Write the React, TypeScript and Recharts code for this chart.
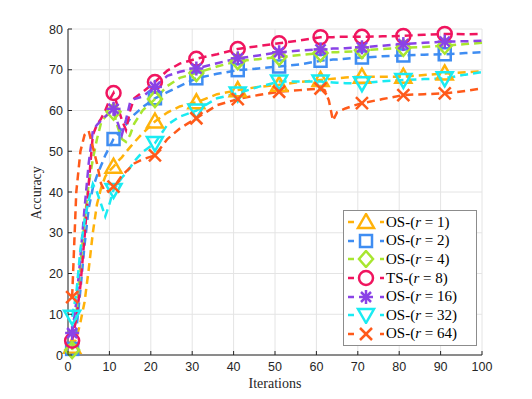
import React from 'react'
import { LineChart, Line, XAxis, YAxis, CartesianGrid } from 'recharts'

const ITERS = [1, 2, 3, 4, 5, 6, 7, 8, 9, 10, 11, 12, 13, 14, 15, 16, 18, 21, 24, 27, 31, 36, 41, 46, 51, 56, 61, 62, 63, 64, 65, 67, 69, 71, 76, 81, 86, 91, 96, 100]

const ACC_R1 = [2, 4, 8, 13, 21, 30, 37, 41, 43.8, 45.2, 46.2, 47.5, 48.5, 49.8, 51, 52.2, 54.4, 57.3, 59.5, 61, 62, 64, 65, 65.8, 66.3, 67, 67.5, 67.6, 67.7, 67.8, 67.9, 68.1, 68.2, 68.3, 68.3, 68.3, 68.7, 69.1, 69.4, 69.6]
const ACC_R2 = [1.5, 6, 16, 27, 36, 41, 44, 46.5, 49, 51, 53, 54, 55.5, 56.5, 58, 59, 60.8, 63, 64.5, 66, 67.9, 69, 69.9, 70.3, 70.8, 71.3, 72.2, 72.3, 72.4, 72.5, 72.5, 72.7, 72.9, 73, 73.3, 73.5, 73.7, 73.8, 74.1, 74.3]
const ACC_R4 = [1.2, 10, 22, 33, 42, 48, 53, 57, 58.5, 59.3, 59.7, 56, 53, 52.3, 54, 56.8, 60, 62.8, 66, 68, 69.2, 70.8, 72.1, 72.6, 73.1, 73.6, 74.1, 74.2, 74.2, 74.3, 74.3, 74.4, 74.5, 74.8, 75.1, 75.4, 75.6, 75.9, 76.3, 76.6]
const ACC_TS8 = [3.5, 9, 17, 29, 42, 54, 56.5, 58, 60, 62.5, 64.3, 61, 57.7, 55.2, 60, 63, 64.5, 67, 69.8, 71.5, 72.7, 73.8, 75.1, 75.8, 76.5, 77.2, 78, 78, 78, 78, 78.1, 78.1, 78.1, 78.1, 78.2, 78.3, 78.6, 78.8, 78.7, 78.8]
const ACC_R16 = [5.4, 13, 24, 36, 47, 55, 56.5, 57.5, 58.5, 59.5, 60.4, 57, 54, 57.7, 62, 62.8, 63.4, 65.8, 68.5, 69.5, 70.3, 71.6, 72.8, 73.5, 74.3, 74.7, 75, 75.1, 75.1, 75.2, 75.2, 75.3, 75.4, 75.5, 75.9, 76.3, 76.6, 76.9, 77, 77.1]
const ACC_R32 = [9.4, 15, 26, 33, 38, 42, 40, 37, 34, 37, 40.5, 42, 43.5, 44.6, 46, 47.5, 49.8, 52, 56.5, 58.5, 60, 63, 64.2, 65.8, 67.1, 67.1, 67.1, 67, 67, 66.9, 66.8, 66.7, 66.7, 66.7, 67.2, 67.5, 67.7, 67.9, 68.8, 69.4]
const ACC_R64 = [14.2, 40, 50, 54, 55, 51, 47, 42, 40, 40.5, 41.3, 42.5, 44, 45, 46, 47, 48, 49, 53, 55.6, 58.1, 61.3, 62.8, 63.8, 64.6, 65, 65.4, 65, 62.5, 57.5, 59.6, 60.5, 61.2, 61.8, 62.8, 63.8, 64, 64.2, 64.8, 65.4]

const SERIES = [
  { key: 'r1', name: 'OS-(', r: '1', vals: ACC_R1, color: '#FFB20A', marker: 'tri' },
  { key: 'r2', name: 'OS-(', r: '2', vals: ACC_R2, color: '#3F8DF2', marker: 'sq' },
  { key: 'r4', name: 'OS-(', r: '4', vals: ACC_R4, color: '#A8E630', marker: 'dia' },
  { key: 'r8', name: 'TS-(', r: '8', vals: ACC_TS8, color: '#F0155F', marker: 'circ' },
  { key: 'r16', name: 'OS-(', r: '16', vals: ACC_R16, color: '#8A43E6', marker: 'star' },
  { key: 'r32', name: 'OS-(', r: '32', vals: ACC_R32, color: '#1AEBF2', marker: 'vtri' },
  { key: 'r64', name: 'OS-(', r: '64', vals: ACC_R64, color: '#FF5A1A', marker: 'x' },
]

const X_TICKS = [0, 10, 20, 30, 40, 50, 60, 70, 80, 90, 100]
const Y_TICKS = [0, 10, 20, 30, 40, 50, 60, 70, 80]

const data = ITERS.map((it, i) => {
  const row: Record<string, number> = { iter: it }
  SERIES.forEach(s => { row[s.key] = s.vals[i] })
  return row
})

const AXIS = '#262626'
const SERIF = 'Liberation Serif, Times New Roman, serif'

function Marker({ kind, cx, cy, color }: { kind: string; cx: number; cy: number; color: string }) {
  const p = { fill: 'none', stroke: color, strokeWidth: 2.5 }
  switch (kind) {
    case 'tri':
      return <polygon {...p} points={`${cx},${cy - 8} ${cx - 8},${cy + 6} ${cx + 8},${cy + 6}`} />
    case 'vtri':
      return <polygon {...p} points={`${cx},${cy + 8} ${cx - 8},${cy - 6} ${cx + 8},${cy - 6}`} />
    case 'sq':
      return <rect {...p} x={cx - 6} y={cy - 6} width={12} height={12} />
    case 'dia':
      return <polygon {...p} points={`${cx},${cy - 8} ${cx + 7},${cy} ${cx},${cy + 8} ${cx - 7},${cy}`} />
    case 'circ':
      return <circle {...p} cx={cx} cy={cy} r={7} />
    case 'star':
      return (
        <g {...p}>
          <line x1={cx - 7} y1={cy} x2={cx + 7} y2={cy} />
          <line x1={cx} y1={cy - 7} x2={cx} y2={cy + 7} />
          <line x1={cx - 5} y1={cy - 5} x2={cx + 5} y2={cy + 5} />
          <line x1={cx - 5} y1={cy + 5} x2={cx + 5} y2={cy - 5} />
        </g>
      )
    default:
      return (
        <g {...p}>
          <line x1={cx - 6} y1={cy - 6} x2={cx + 6} y2={cy + 6} />
          <line x1={cx - 6} y1={cy + 6} x2={cx + 6} y2={cy - 6} />
        </g>
      )
  }
}

const XTick = (props: any) => {
  const { x, y, payload } = props
  return (
    <g>
      <line x1={x} y1={y} x2={x} y2={y - 4} stroke={AXIS} />
      <text x={x} y={y + 16} textAnchor="middle" fontSize={12.5} fill={AXIS} fontFamily="Liberation Sans, Arial, sans-serif">
        {payload.value}
      </text>
    </g>
  )
}

const YTick = (props: any) => {
  const { x, y, payload } = props
  return (
    <g>
      <line x1={x} y1={y} x2={x + 4} y2={y} stroke={AXIS} />
      <text x={x - 5} y={y + 4.5} textAnchor="end" fontSize={12.5} fill={AXIS} fontFamily="Liberation Sans, Arial, sans-serif">
        {payload.value}
      </text>
    </g>
  )
}

const LegendBox = () => (
  <div style={{
    position: 'absolute', left: 343, top: 210, width: 132, padding: '2px 0',
    background: '#fff', border: '1px solid #8c8c8c',
    fontFamily: SERIF, fontSize: 15, color: '#000',
  }}>
    {SERIES.map(s => (
      <div key={s.key} style={{ display: 'flex', alignItems: 'center', height: 18.6 }}>
        <svg width={42} height={18} style={{ flex: 'none' }}>
          <line x1={4} y1={9} x2={40} y2={9} stroke={s.color} strokeWidth={2.5} strokeDasharray="6 26 6" />
          <Marker kind={s.marker} cx={22} cy={9} color={s.color} />
        </svg>
        <span style={{ whiteSpace: 'nowrap' }}>
          {s.name}<i>r</i> = {s.r})
        </span>
      </div>
    ))}
  </div>
)

export default function App() {
  return (
    <div style={{ position: 'absolute', left: 0, top: 0, width: 532, height: 399, background: '#fff' }}>
      <LineChart width={532} height={399} data={data} margin={{ top: 29, right: 50, bottom: 14, left: 28 }}>
        <CartesianGrid stroke="#e4e4e4" strokeWidth={1} />
        <XAxis
          dataKey="iter" type="number" domain={[0, 100]} ticks={X_TICKS}
          stroke={AXIS} tickLine={false} tickSize={0} tickMargin={0} height={30} tick={XTick}
        />
        <YAxis
          type="number" domain={[0, 80]} ticks={Y_TICKS}
          stroke={AXIS} tickLine={false} tickSize={0} tickMargin={0} width={40} tick={YTick}
        />
        {SERIES.map(s => (
          <Line
            key={s.key}
            dataKey={s.key}
            type="linear"
            stroke={s.color}
            strokeWidth={2.5}
            strokeDasharray="8 5"
            isAnimationActive={false}
            dot={(props: any) => {
              const { cx, cy, payload, index } = props
              if (payload.iter % 10 !== 1) return <g key={`${s.key}-${index}`} />
              return <g key={`${s.key}-${index}`}><Marker kind={s.marker} cx={cx} cy={cy} color={s.color} /></g>
            }}
            activeDot={false}
          />
        ))}
      </LineChart>
      <LegendBox />
      <div style={{
        position: 'absolute', left: 37, top: 193, transform: 'translate(-50%, -50%) rotate(-90deg)',
        fontFamily: SERIF, fontSize: 14, color: AXIS, whiteSpace: 'nowrap',
      }}>
        Accuracy
      </div>
      <div style={{
        position: 'absolute', left: 275, top: 384, transform: 'translate(-50%, -50%)',
        fontFamily: SERIF, fontSize: 14, color: AXIS, whiteSpace: 'nowrap',
      }}>
        Iterations
      </div>
    </div>
  )
}
